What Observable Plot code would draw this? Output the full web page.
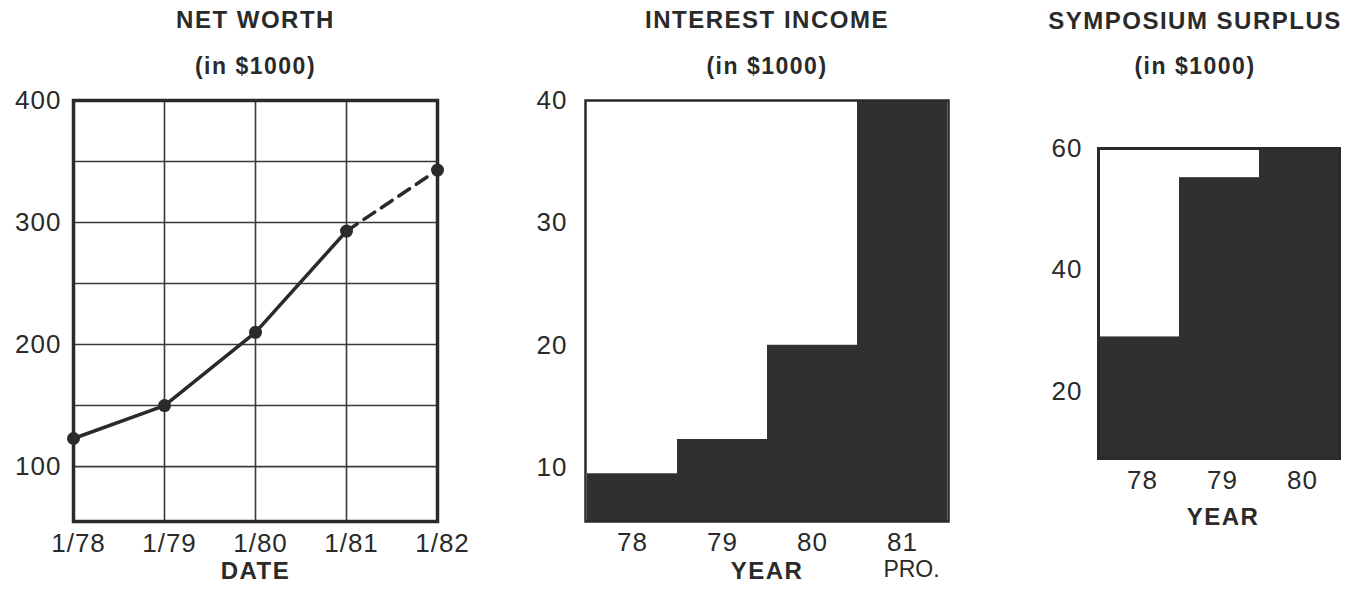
<!DOCTYPE html>
<html>
<head>
<meta charset="utf-8">
<script src="https://cdn.jsdelivr.net/npm/d3@7"></script>
<script src="https://cdn.jsdelivr.net/npm/@observablehq/plot@0.6"></script>
<style>
  html, body { margin: 0; padding: 0; background: #fff; }
  #wrap { display: flex; width: 1354px; height: 590px; overflow: hidden; }
  #wrap svg { display: block; overflow: visible; }
  #wrap g[font-weight="bold"] text { letter-spacing: 1.5px; }
  #wrap g[aria-label="x-axis tick label"] text,
  #wrap g[aria-label="y-axis tick label"] text { letter-spacing: 1px; }
</style>
</head>
<body>
<div id="wrap"></div>
<script>
// ---- Net worth (in $1000) ----
const netDates = [1978, 1979, 1980, 1981, 1982];
const netDateLabels = ["1/78", "1/79", "1/80", "1/81", "1/82"];
const netWorth = [123, 150, 210, 293, 343];
const netKind = ["actual", "actual", "actual", "actual", "projected"];
const netYTicks = [100, 200, 300, 400];
const netYGrid = [100, 150, 200, 250, 300, 350];

// ---- Interest income (in $1000) ----
const incomeYears = ["78", "79", "80", "81"];
const incomeValues = [9.5, 12.3, 20, 40];
const incomeProjectedYear = "81";
const incomeProjectedNote = "PRO.";
const incomeYTicks = [10, 20, 30, 40];

// ---- Symposium surplus (in $1000) ----
const surplusYears = ["78", "79", "80"];
const surplusValues = [29, 55.2, 60];
const surplusYTicks = [20, 40, 60];

const INK = "#2a2a2a";
const BAR = "#303030";
const FONT = "'Liberation Sans', Arial, Helvetica, sans-serif";
const TICK = 26;

function titleMarks(lines, dys, dx = 0) {
  return lines.map((t, i) => Plot.text([t], {
    frameAnchor: "top", dy: dys[i], dx,
    fontSize: i === 0 ? 24 : 23, fontWeight: "bold", fill: INK,
    lineAnchor: "middle"
  }));
}

// Panel 1
const netRows = netDates.map((d, i) => ({date: d, value: netWorth[i], kind: netKind[i]}));
const lastActual = netRows.filter(r => r.kind === "actual").length - 1;
const p1 = Plot.plot({
  width: 500, height: 590,
  marginLeft: 73, marginRight: 63, marginTop: 100, marginBottom: 69,
  style: {fontFamily: FONT, color: INK, background: "transparent"},
  x: {domain: [netDates[0], netDates[netDates.length - 1]], axis: null},
  y: {domain: [55, 400], axis: null},
  marks: [
    Plot.gridX(netDates, {stroke: "#3a3a3a", strokeOpacity: 1, strokeWidth: 1.6}),
    Plot.gridY(netYGrid, {stroke: "#3a3a3a", strokeOpacity: 1, strokeWidth: 1.6}),
    Plot.frame({stroke: INK, strokeWidth: 3.5}),
    Plot.axisY(netYTicks, {tickSize: 0, tickPadding: 12, fontSize: TICK, fill: INK, label: null}),
    Plot.axisX(netDates, {tickSize: 0, tickPadding: 12, dx: 5, fontSize: TICK, fill: INK, label: null,
      tickFormat: (d) => netDateLabels[netDates.indexOf(d)]}),
    Plot.line(netRows.slice(0, lastActual + 1), {x: "date", y: "value", stroke: INK, strokeWidth: 3.5}),
    Plot.line(netRows.slice(lastActual), {x: "date", y: "value", stroke: INK, strokeWidth: 3.5, strokeDasharray: "13,8"}),
    Plot.dot(netRows, {x: "date", y: "value", r: 6.5, fill: INK}),
    ...titleMarks(["NET WORTH", "(in $1000)"], [-80, -34]),
    Plot.text(["DATE"], {frameAnchor: "bottom", dy: 57, fontSize: 24, fontWeight: "bold", fill: INK})
  ]
});

// Panel 2
const incomeRows = incomeYears.map((y, i) => ({year: y, value: incomeValues[i]}));
const incomeMin = 5.6;
const p2 = Plot.plot({
  width: 490, height: 590,
  marginLeft: 85, marginRight: 42, marginTop: 100, marginBottom: 69,
  style: {fontFamily: FONT, color: INK, background: "transparent"},
  x: {type: "band", domain: incomeYears, padding: 0, axis: null},
  y: {domain: [incomeMin, 40], axis: null},
  marks: [
    Plot.barY(incomeRows, {x: "year", y1: incomeMin, y2: "value", fill: BAR}),
    Plot.frame({stroke: INK, strokeWidth: 2.5}),
    Plot.axisY(incomeYTicks, {tickSize: 0, tickPadding: 18, fontSize: TICK, fill: INK, label: null}),
    Plot.axisX(incomeYears, {tickSize: 0, tickPadding: 11, fontSize: TICK, fill: INK, label: null}),
    Plot.text([incomeProjectedNote], {x: () => incomeProjectedYear, frameAnchor: "bottom", dy: 55, dx: 9,
      fontSize: 23, fill: INK}),
    ...titleMarks(["INTEREST INCOME", "(in $1000)"], [-80, -34]),
    Plot.text(["YEAR"], {frameAnchor: "bottom", dy: 57, fontSize: 24, fontWeight: "bold", fill: INK})
  ]
});

// Panel 3
const surplusRows = surplusYears.map((y, i) => ({year: y, value: surplusValues[i]}));
const surplusMin = 9;
const p3 = Plot.plot({
  width: 364, height: 590,
  marginLeft: 108, marginRight: 15, marginTop: 148, marginBottom: 132,
  style: {fontFamily: FONT, color: INK, background: "transparent"},
  x: {type: "band", domain: surplusYears, padding: 0, axis: null},
  y: {domain: [surplusMin, 60], axis: null},
  marks: [
    Plot.barY(surplusRows, {x: "year", y1: surplusMin, y2: "value", fill: BAR}),
    Plot.frame({stroke: INK, strokeWidth: 3}),
    Plot.axisY(surplusYTicks, {tickSize: 0, tickPadding: 16, fontSize: TICK, fill: INK, label: null}),
    Plot.axisX(surplusYears, {tickSize: 0, tickPadding: 12, dx: 3, fontSize: TICK, fill: INK, label: null}),
    ...titleMarks(["SYMPOSIUM SURPLUS", "(in $1000)"], [-127, -82], -24),
    Plot.text(["YEAR"], {frameAnchor: "bottom", dy: 66, dx: 4, fontSize: 24, fontWeight: "bold", fill: INK})
  ]
});

const wrap = document.getElementById("wrap");
[p1, p2, p3].forEach(p => wrap.appendChild(p));
</script>
</body>
</html>
